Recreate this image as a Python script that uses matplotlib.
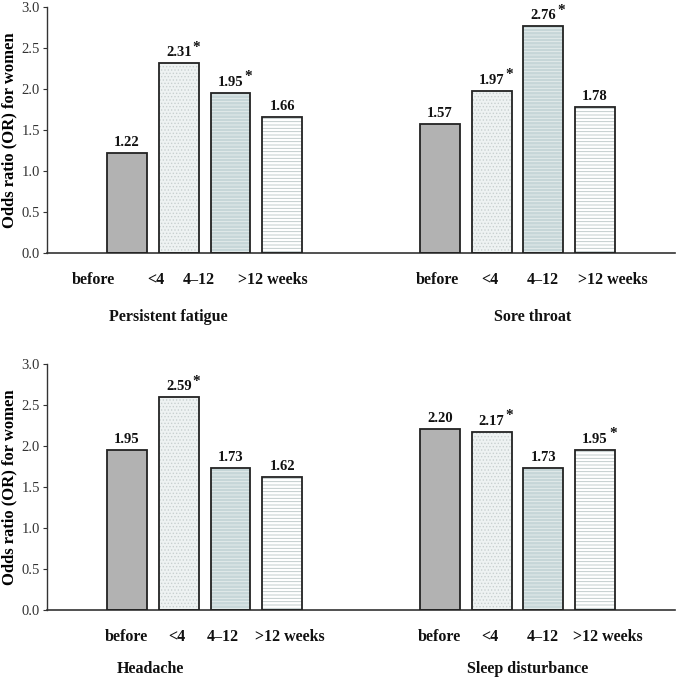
import numpy as np
import matplotlib
matplotlib.use('Agg')
import matplotlib.pyplot as plt

plt.rcParams['font.family'] = ['Liberation Serif', 'DejaVu Serif']
plt.rcParams['hatch.linewidth'] = 0.6

categories = ['before', '<4', '4\u201312', '>12 weeks']
symptoms = ['Persistent fatigue', 'Sore throat', 'Headache', 'Sleep disturbance']
fatigue = [1.22, 2.31, 1.95, 1.66]
fatigue_sig = [False, True, True, False]
sore_throat = [1.57, 1.97, 2.76, 1.78]
sore_throat_sig = [False, True, True, False]
headache = [1.95, 2.59, 1.73, 1.62]
headache_sig = [False, True, False, False]
sleep = [2.20, 2.17, 1.73, 1.95]
sleep_sig = [False, True, False, True]

# bar styles: face, hatch, hatch colour
styles = [('#b2b2b2', None, None),
          ('#eef2f2', '.....', '#c8d0d0'),
          ('#c6d6d8', '-----', '#e8eeee'),
          ('#ffffff', '-----', '#b8c4c4')]

def draw_group(ax, x0, vals, sig, title, lab_dx, title_x, title_y):
    xs = x0 + np.arange(4)
    for i in range(4):
        face, hatch, hc = styles[i]
        if hatch:
            ax.bar(xs[i], vals[i], 0.77, color=face, hatch=hatch, edgecolor=hc, lw=0, zorder=2)
        else:
            ax.bar(xs[i], vals[i], 0.77, color=face, lw=0, zorder=2)
        ax.bar(xs[i], vals[i], 0.77, fill=False, edgecolor='#222222', lw=1.3, zorder=3)
        ax.text(xs[i], vals[i] + 0.05, '%.2f' % vals[i], ha='center', va='bottom',
                fontsize=10.5, fontweight='bold', color='#111111')
        if sig[i]:
            ax.text(xs[i] + 0.27, vals[i] + 0.12, '*', ha='left', va='bottom',
                    fontsize=11, fontweight='bold', color='#111111')
        ax.text(xs[i] + lab_dx[i], -0.23, categories[i], ha='center', va='top',
                fontsize=11.5, fontweight='bold', color='#111111')
    ax.text(title_x, title_y, title, ha='center', va='top', fontsize=11.5,
            fontweight='bold', color='#111111')

def setup(ax):
    ax.set_xlim(0, 12.15)
    ax.set_ylim(0, 3.0)
    ax.set_yticks(np.arange(0, 3.01, 0.5))
    ax.set_yticklabels(['%.1f' % v for v in np.arange(0, 3.01, 0.5)], fontsize=10.5,
                       color='#333333')
    ax.set_xticks([])
    for s in ['top', 'right']:
        ax.spines[s].set_visible(False)
    ax.spines['left'].set_color('#333333')
    ax.spines['bottom'].set_color('#333333')
    ax.spines['left'].set_linewidth(1.0)
    ax.spines['bottom'].set_linewidth(1.2)
    ax.tick_params(axis='y', direction='out', length=3, pad=2, color='#333333')
    ax.set_ylabel('Odds ratio (OR) for women', fontsize=12, fontweight='bold', labelpad=3)

fig = plt.figure(figsize=(6.8, 6.8), dpi=100)
ax1 = fig.add_axes([0.069, 0.628, 0.924, 0.362])
ax2 = fig.add_axes([0.069, 0.103, 0.924, 0.362])
setup(ax1)
setup(ax2)

draw_group(ax1, 1.55, fatigue, fatigue_sig, symptoms[0],
           [-0.66, -0.45, -0.62, -0.18], 2.35, -0.68)
draw_group(ax1, 7.6, sore_throat, sore_throat_sig, symptoms[1],
           [-0.04, -0.04, -0.02, 0.35], 9.4, -0.68)
draw_group(ax2, 1.55, headache, headache_sig, symptoms[2],
           [-0.02, -0.03, -0.15, 0.14], 2.0, -0.62)
draw_group(ax2, 7.6, sleep, sleep_sig, symptoms[3],
           [-0.02, -0.04, -0.02, 0.25], 9.3, -0.62)

fig.savefig('out.png', dpi=100)
